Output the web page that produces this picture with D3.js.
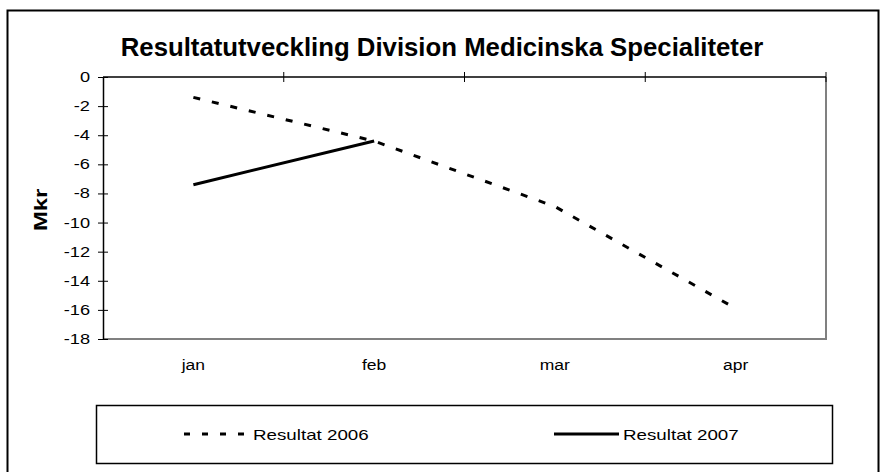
<!DOCTYPE html>
<html lang="sv">
<head>
  <meta charset="UTF-8" />
  <title>Resultatutveckling Division Medicinska Specialiteter</title>
  <script src="https://d3js.org/d3.v7.min.js"></script>
  <style>
    body { margin: 0; background: #fff; }
    svg { display: block; font-family: "Liberation Sans", Arial, sans-serif; }
    .tick text { font-size: 14px; fill: #000; }
  </style>
</head>
<body>
<svg width="881" height="472"></svg>
<script>
  // Data
  const months = ["jan", "feb", "mar", "apr"];
  const res2006 = [-1.4, -4.4, -8.9, -15.9];
  const res2007 = [-7.4, -4.4];
  const yTicks = [0, -2, -4, -6, -8, -10, -12, -14, -16, -18];

  const svg = d3.select("svg");
  const plot = { left: 103, top: 77, right: 826, bottom: 339 };

  // Excel-texten är bredare än Liberation i samma höjd
  function stretch(sel, f) {
    sel.each(function () {
      const w = this.getComputedTextLength();
      d3.select(this).attr("textLength", w * f).attr("lengthAdjust", "spacingAndGlyphs");
    });
  }

  // ram runt hela diagrammet
  svg.append("rect")
    .attr("x", 7.5).attr("y", 10.5)
    .attr("width", 871).attr("height", 480)
    .attr("fill", "none").attr("stroke", "#000").attr("stroke-width", 2);

  svg.append("text")
    .attr("x", 442).attr("y", 56)
    .attr("text-anchor", "middle")
    .style("font-size", "25px").style("font-weight", "bold")
    .text("Resultatutveckling Division Medicinska Specialiteter")
    .call(stretch, 1.03);

  const x = d3.scaleBand().domain(months).range([plot.left, plot.right]);
  const y = d3.scaleLinear().domain([0, -18]).range([plot.top, plot.bottom]);

  // grå ram på plotytan (höger + botten)
  svg.append("path")
    .attr("d", `M${plot.right},${plot.top}V${plot.bottom}H${plot.left}`)
    .attr("fill", "none").attr("stroke", "#808080").attr("stroke-width", 2);

  // y-axel
  const yAxis = svg.append("g")
    .attr("transform", `translate(${plot.left},0)`)
    .call(d3.axisLeft(y).tickValues(yTicks).tickFormat(d => String(d))
      .tickSizeInner(5).tickSizeOuter(0).tickPadding(8));
  yAxis.selectAll(".tick line").attr("x2", -5).attr("x1", 5);
  yAxis.select(".domain").attr("stroke-width", 1.5);
  yAxis.selectAll(".tick text").call(stretch, 1.3);

  // kategoriaxel längs nollinjen med streck mellan kategorierna
  svg.append("line")
    .attr("x1", plot.left).attr("x2", plot.right)
    .attr("y1", y(0)).attr("y2", y(0))
    .attr("stroke", "#000").attr("stroke-width", 1.5);
  svg.selectAll(".xsep")
    .data(months)
    .enter().append("line")
    .attr("class", "xsep")
    .attr("x1", d => x(d) + x.bandwidth()).attr("x2", d => x(d) + x.bandwidth())
    .attr("y1", y(0) - 5).attr("y2", y(0) + 5)
    .attr("stroke", "#000");

  svg.selectAll(".xlab")
    .data(months)
    .enter().append("text")
    .attr("class", "xlab")
    .attr("x", d => x(d) + x.bandwidth() / 2)
    .attr("y", 370)
    .attr("text-anchor", "middle")
    .style("font-size", "14px")
    .text(d => d)
    .call(stretch, 1.25);

  svg.append("text")
    .attr("transform", "translate(47,210) rotate(-90)")
    .attr("text-anchor", "middle")
    .style("font-size", "19px").style("font-weight", "bold")
    .text("Mkr")
    .call(stretch, 1.25);

  const line = d3.line()
    .x((d, i) => x(months[i]) + x.bandwidth() / 2)
    .y(d => y(d));

  svg.append("path")
    .datum(res2006)
    .attr("d", line)
    .attr("fill", "none").attr("stroke", "#000")
    .attr("stroke-width", 3).attr("stroke-dasharray", "7,12");

  svg.append("path")
    .datum(res2007)
    .attr("d", line)
    .attr("fill", "none").attr("stroke", "#000")
    .attr("stroke-width", 3);

  // legend
  svg.append("rect")
    .attr("x", 96.5).attr("y", 405.5)
    .attr("width", 736).attr("height", 58)
    .attr("fill", "none").attr("stroke", "#000").attr("stroke-width", 1.5);

  const legend = [
    { name: "Resultat 2006", x: 184, dash: "6,12" },
    { name: "Resultat 2007", x: 554, dash: null }
  ];
  legend.forEach(l => {
    svg.append("line")
      .attr("x1", l.x).attr("x2", l.x + 65)
      .attr("y1", 434).attr("y2", 434)
      .attr("stroke", "#000").attr("stroke-width", 3)
      .attr("stroke-dasharray", l.dash);
    svg.append("text")
      .attr("x", l.x + 69).attr("y", 440)
      .style("font-size", "15px")
      .text(l.name)
      .call(stretch, 1.25);
  });
</script>
</body>
</html>
